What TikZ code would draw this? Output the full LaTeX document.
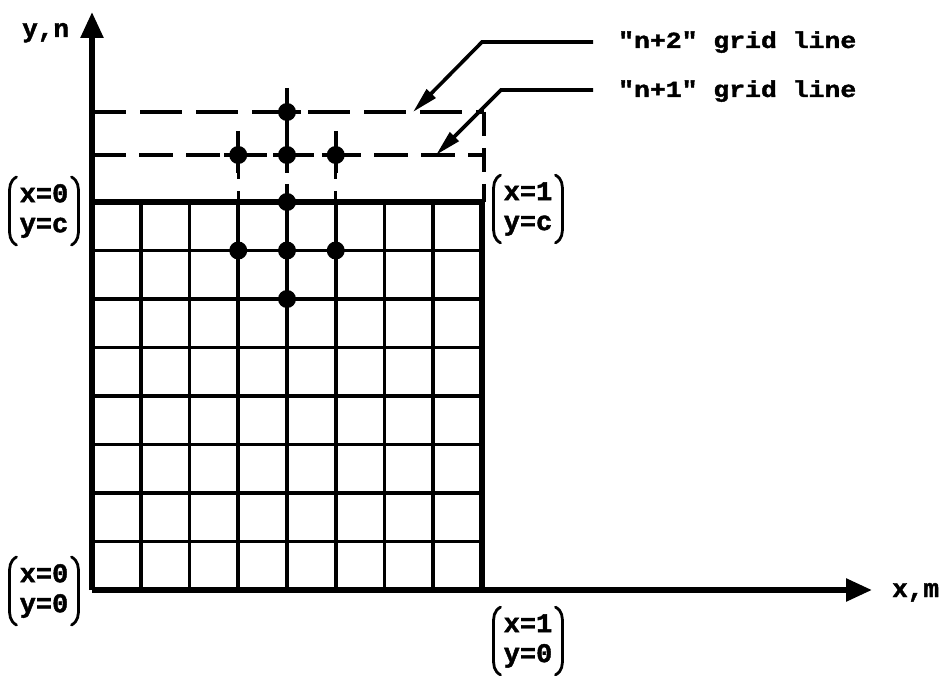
\documentclass[tikz,border=0pt]{standalone}
\usepackage{fontspec}
\usepackage{graphicx}
\newfontfamily\twfont{Liberation Mono}[BoldFeatures={FakeBold=1.6}]
\usetikzlibrary{arrows.meta,calc}
\newcommand\pparens[1]{%
  \draw[parenline] ([xshift=7pt]#1.north west) .. controls ([yshift=-4pt]#1.north west) and ([yshift=-10pt]#1.north west) .. ([yshift=-18pt]#1.north west) -- ([yshift=18pt]#1.south west) .. controls ([yshift=10pt]#1.south west) and ([yshift=4pt]#1.south west) .. ([xshift=7pt]#1.south west);
  \draw[parenline] ([xshift=-7pt]#1.north east) .. controls ([yshift=-4pt]#1.north east) and ([yshift=-10pt]#1.north east) .. ([yshift=-18pt]#1.north east) -- ([yshift=18pt]#1.south east) .. controls ([yshift=10pt]#1.south east) and ([yshift=4pt]#1.south east) .. ([xshift=-7pt]#1.south east);
}
\begin{document}
\begin{tikzpicture}[x=1pt,y=-1pt,
  gridl/.style={line width=3.6pt},
  border/.style={line width=5.5pt},
  axis/.style={line width=5.5pt,-{Triangle[length=26pt,width=22pt]}},
  dashrowa/.style={line width=3.6pt,dash pattern=on 42pt off 14pt,dash phase=8pt},
  dashrowb/.style={line width=3.6pt,dash pattern=on 34pt off 13pt,dash phase=0pt},
  dashcol/.style={line width=3.4pt,dash pattern=on 24pt off 12pt},
  crossarm/.style={line width=3.8pt},
  callout/.style={line width=3.6pt,-{Triangle[length=26pt,width=12pt]}},
  dot/.style={circle,fill=black,inner sep=0pt,minimum size=18pt},
  lbl/.style={font=\twfont\bfseries\fontsize{26}{28}\selectfont,inner sep=0pt},
  ctext/.style={font=\twfont\bfseries\fontsize{23}{26}\selectfont,inner sep=0pt},
  plabel/.style={font=\twfont\bfseries\fontsize{27}{30}\selectfont,align=left,inner xsep=10pt,inner ysep=7pt},
  parenline/.style={line width=2.8pt,line cap=round}]
\useasboundingbox (0,0) rectangle (945,676);

% grid
\foreach \i in {1,...,7} \draw[gridl] ({92+48.75*\i},590) -- ({92+48.75*\i},202);
\foreach \j in {1,...,7} \draw[gridl] (92,{590-48.5*\j}) -- (482,{590-48.5*\j});
\draw[border] (90,202) -- (482,202) -- (482,590);

% axes
\coordinate (O) at (92,590);
\coordinate (Ytip) at (92,12);
\coordinate (Xtip) at (872,590);
\draw[axis] (O) -- (Ytip);
\draw[axis] (O) -- (Xtip);
\node[lbl,anchor=base west] (ylab) at (22,37) {y,n};
\node[lbl,anchor=base west] (xlab) at (892,597) {x,m};

% dashed grid lines
\draw[dashrowa] (92,112) -- (484,112);
\draw[dashrowb] (92,155) -- (484,155);
\draw[dashcol] (484,112) -- (484,202);
\draw[dashcol] (238.25,155) -- (238.25,202);
\draw[dashcol] (335.75,155) -- (335.75,202);
\draw[dashcol] (287,112) -- (287,202);

% crosses on dashed rows
\foreach \px/\py in {287/112,238.25/155,287/155,335.75/155}{
  \draw[crossarm] (\px-14,\py) -- (\px+14,\py) (\px,\py-24) -- (\px,\py+18);
}

% dots
\node[dot] (d1) at (287,112) {};
\node[dot] (d2) at (238.25,155) {};
\node[dot] (d3) at (287,155) {};
\node[dot] (d4) at (335.75,155) {};
\node[dot] (d5) at (287,202) {};
\node[dot] (d6) at (238.25,250.5) {};
\node[dot] (d7) at (287,250.5) {};
\node[dot] (d8) at (335.75,250.5) {};
\node[dot] (d9) at (287,299) {};

% callouts
\node[ctext,anchor=base west] (t2) at (618,48) {\scalebox{1.15}[1]{"n+2" grid line}};
\node[ctext,anchor=base west] (t1) at (618,97) {\scalebox{1.15}[1]{"n+1" grid line}};
\coordinate (e2) at (593,42);
\coordinate (k2) at (482,42);
\coordinate (a2) at (413,112);
\coordinate (e1) at (593,90);
\coordinate (k1) at (501,90);
\coordinate (a1) at (436,155);
\draw[callout] (e2) -- (k2) -- (a2);
\draw[callout] (e1) -- (k1) -- (a1);

% corner labels
\node[plabel] (p1) at (44,211) {x=0\\y=c};
\node[plabel] (p2) at (528,209) {x=1\\y=c};
\node[plabel] (p3) at (44,591) {x=0\\y=0};
\node[plabel] (p4) at (528,641) {x=1\\y=0};
\pparens{p1}
\pparens{p2}
\pparens{p3}
\pparens{p4}
\end{tikzpicture}
\end{document}
